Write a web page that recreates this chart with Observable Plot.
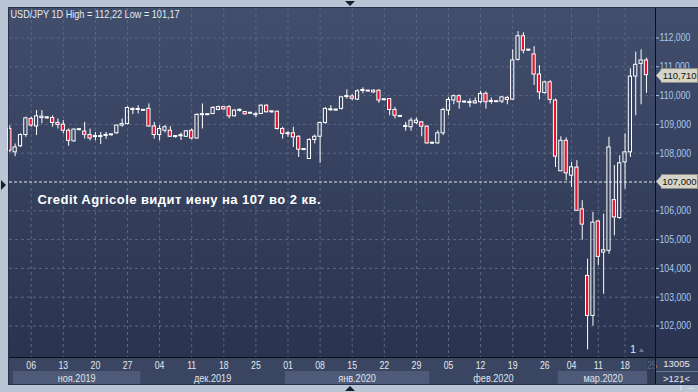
<!DOCTYPE html>
<html><head><meta charset="utf-8">
<script src="https://cdn.jsdelivr.net/npm/d3@7"></script>
<script src="https://cdn.jsdelivr.net/npm/@observablehq/plot@0.6"></script>
<style>
html,body{margin:0;padding:0;background:#b9c5d5;}
#chart{width:698px;height:392px;overflow:hidden;}
</style></head>
<body><div id="chart"></div>
<script>
// ---- data ----
const open  = [108.84,108.03,108.24,108.63,109.19,108.93,109.22,109.24,109.22,109.05,108.99,108.78,108.41,108.80,108.75,108.63,108.56,108.58,108.60,108.62,108.69,108.96,109.01,109.54,109.50,109.49,109.54,108.93,108.63,108.78,108.78,108.56,108.59,108.57,108.78,108.51,109.32,109.34,109.36,109.50,109.60,109.60,109.28,109.47,109.43,109.37,109.32,109.36,109.65,109.44,109.44,108.84,108.66,108.69,108.57,108.11,107.80,108.46,108.57,109.05,109.49,109.50,109.54,109.95,109.97,109.86,110.16,110.15,110.17,110.17,109.86,109.88,109.50,109.28,108.91,108.90,109.05,109.07,108.92,108.33,108.34,108.69,109.48,109.83,109.98,109.78,109.74,109.73,109.77,110.06,109.78,109.79,109.79,109.92,109.86,111.24,112.06,111.58,111.43,110.73,110.09,110.46,109.83,107.37,108.43,107.22,107.50,106.05,103.74,102.35,105.63,104.55,104.61,106.37,105.75,107.68,108.03,110.66,111.10,111.22];
const high  = [108.95,108.32,108.67,109.25,109.25,109.48,109.48,109.27,109.30,109.19,109.13,108.84,108.84,108.84,109.07,108.84,108.72,108.72,108.72,108.66,108.97,109.19,109.61,109.57,109.65,109.50,109.71,109.07,108.96,108.96,108.92,108.60,108.70,108.78,108.84,109.37,109.71,109.36,109.62,109.63,109.62,109.65,109.50,109.54,109.45,109.41,109.41,109.68,109.68,109.46,109.46,108.90,108.75,108.90,108.61,108.15,108.50,108.63,109.08,109.58,109.65,109.52,109.96,110.20,110.03,110.20,110.27,110.18,110.20,110.20,109.88,109.90,109.59,109.29,109.07,109.22,109.22,109.10,108.96,108.37,108.78,109.56,109.94,110.02,110.02,109.80,109.88,109.92,110.15,110.13,109.92,109.80,109.96,109.96,111.59,112.22,112.18,111.60,111.70,111.04,110.50,110.52,109.88,108.57,108.53,107.68,107.74,106.35,104.32,105.94,105.65,105.88,108.55,107.57,107.91,108.67,110.93,111.51,111.59,111.30];
const low   = [108.02,107.88,108.20,108.55,108.90,108.61,109.02,109.18,108.90,108.84,108.67,108.24,108.38,108.78,108.49,108.43,108.43,108.30,108.48,108.60,108.66,108.90,108.98,109.34,109.36,109.45,108.90,108.49,108.43,108.70,108.55,108.52,108.44,108.55,108.46,108.49,108.84,109.30,109.34,109.48,109.50,109.19,109.26,109.42,109.33,109.35,109.24,109.34,109.40,109.38,108.80,108.49,108.55,108.20,107.85,108.09,107.78,108.32,107.65,109.00,109.45,109.46,109.50,109.88,109.82,109.83,110.06,110.12,110.08,109.73,109.82,109.30,109.19,109.24,108.76,108.76,108.99,108.57,108.31,108.31,108.31,108.61,109.30,109.68,109.53,109.74,109.59,109.70,109.71,109.53,109.70,109.76,109.72,109.68,109.84,111.20,111.45,111.54,110.35,109.85,110.05,109.71,107.50,107.37,107.04,106.81,105.98,104.98,101.17,102.00,104.09,103.10,104.49,105.13,105.70,106.75,107.85,109.30,109.68,110.08];
const close = [108.09,108.20,108.63,109.21,108.96,109.28,109.27,109.21,109.05,108.98,108.78,108.43,108.82,108.82,108.64,108.51,108.58,108.56,108.62,108.64,108.96,109.01,109.57,109.50,109.52,109.47,108.93,108.63,108.84,108.90,108.57,108.58,108.61,108.76,108.51,109.33,109.34,109.32,109.57,109.60,109.52,109.28,109.48,109.49,109.35,109.39,109.34,109.65,109.42,109.42,108.84,108.67,108.68,108.55,108.12,108.13,108.46,108.57,109.05,109.54,109.51,109.48,109.94,109.97,109.89,110.15,110.18,110.14,110.11,109.83,109.84,109.50,109.30,109.26,108.93,109.13,109.13,108.92,108.34,108.35,108.69,109.50,109.85,109.98,109.77,109.76,109.76,109.80,110.06,109.77,109.80,109.77,109.94,109.85,111.22,112.06,111.56,111.56,110.73,110.11,110.46,109.85,107.88,108.43,107.30,107.51,106.00,105.52,102.35,105.59,104.40,104.63,108.20,105.77,107.65,108.03,110.66,111.07,111.22,110.71];

const tickIdx    = [4,10,16,22,28,34,40,46,52,58,64,70,76,82,88,94,100,105,110,115,120];
const tickLabels = ["06","13","20","27","04","11","18","25","01","08","15","22","29","05","12","19","26","04","11","18","25"];
const monthNames = ["ноя.2019","дек.2019","янв.2020","фев.2020","мар.2020"];
const monthStart = [-0.5,24.5,51.5,78.5,102.5];
const monthEnd   = [24.5,51.5,78.5,102.5,119.5];
const yTicks = [102,103,104,105,106,107,108,109,110,111,112];
const refLevel = 107;
const lastPrice = 110.71;
const titleText = "USD/JPY 1D High = 112,22 Low = 101,17";
const noteText = "Credit Agricole видит иену на 107 во 2 кв.";

// ---- table ----
const candles = open.map((o, i) => ({i, o, h: high[i], l: low[i], c: close[i], up: close[i] >= o}));
const bodyTop = d => Math.max(d.o, d.c, Math.min(d.o, d.c) + 0.035);
const bodyBot = d => Math.min(d.o, d.c);
const fmt3 = v => v.toFixed(3).replace(".", ",");
const FONT = "Liberation Sans, Arial, sans-serif";

function chrome(index, scales, values, dims) {
  const {width, height, marginLeft, marginTop, marginBottom} = dims;
  const pb = height - marginBottom;
  const g = d3.create("svg:g");
  const lg = g.append("defs").append("linearGradient").attr("id", "bgGrad")
    .attr("x1", 0).attr("y1", 0).attr("x2", 0).attr("y2", 1);
  lg.append("stop").attr("offset", "0%").attr("stop-color", "#414e6c");
  lg.append("stop").attr("offset", "100%").attr("stop-color", "#2a3350");
  g.append("rect").attr("x", marginLeft).attr("y", marginTop)
    .attr("width", width - marginLeft).attr("height", pb - marginTop).attr("fill", "url(#bgGrad)");
  g.append("rect").attr("x", marginLeft).attr("y", pb)
    .attr("width", width - marginLeft).attr("height", 28).attr("fill", "#3a4561");
  const x = scales.x;
  monthNames.forEach((m, k) => {
    const x0 = Math.max(marginLeft + 4, x(monthStart[k])), x1 = x(monthEnd[k]);
    if (k % 2 === 0) g.append("rect").attr("x", x0).attr("y", pb + 14).attr("width", x1 - x0).attr("height", 13).attr("fill", "#4e5a77");
    g.append("text").attr("x", (x0 + x1) / 2).attr("y", pb + 24.5).attr("text-anchor", "middle")
      .attr("fill", "#dfe5ee").attr("font-size", 11).attr("font-family", FONT).attr("class", "narrow").text(m);
  });
  return g.node();
}

function overlay(index, scales, values, dims) {
  const {width, height, marginLeft, marginRight, marginTop, marginBottom} = dims;
  const pb = height - marginBottom, pr = width - marginRight;
  const g = d3.create("svg:g");
  g.append("rect").attr("x", pr - 8).attr("y", pb + 1).attr("width", 8).attr("height", 26).attr("fill", "#2f3852").attr("opacity", 0.75);
  g.append("line").attr("x1", pr + 0.5).attr("x2", pr + 0.5).attr("y1", marginTop).attr("y2", pb + 28).attr("stroke", "#0c0f18");
  g.append("line").attr("x1", marginLeft).attr("x2", width).attr("y1", pb + 0.5).attr("y2", pb + 0.5).attr("stroke", "#0c0f18");
  g.append("rect").attr("x", marginLeft - 0.5).attr("y", marginTop - 0.5).attr("width", width - marginLeft + 1).attr("height", pb + 28 - marginTop)
    .attr("fill", "none").attr("stroke", "#26304a");
  g.append("line").attr("x1", pr + 1).attr("x2", width).attr("y1", pb + 14.5).attr("y2", pb + 14.5).attr("stroke", "#6b7691");
  g.append("text").attr("x", (pr + width) / 2).attr("y", pb + 10).attr("text-anchor", "middle").attr("fill", "#e3e8f0")
    .attr("font-size", 9.5).attr("font-family", FONT).text("13005");
  g.append("text").attr("x", (pr + width) / 2).attr("y", pb + 25).attr("text-anchor", "middle").attr("fill", "#e3e8f0")
    .attr("font-size", 9.5).attr("font-family", FONT).text(">121<");
  // price tags on the right axis
  [[lastPrice, fmt3(lastPrice)], [refLevel, fmt3(refLevel)]].forEach(([v, t]) => {
    const y = Math.round(scales.y(v)) + 0.5;
    g.append("rect").attr("x", pr + 6.5).attr("y", y - 7).attr("width", width - pr - 7).attr("height", 14)
      .attr("fill", "#d6d4c8").attr("stroke", "#8f8d82");
    g.append("path").attr("d", `M${pr + 1},${y} L${pr + 7},${y - 6.5} L${pr + 7},${y + 6.5} Z`).attr("fill", "#d6d4c8");
    g.append("text").attr("x", width - 1.5).attr("y", y + 3.5).attr("text-anchor", "end").attr("fill", "#111111")
      .attr("font-size", 9.5).attr("font-family", FONT).text(t);
  });
  g.append("text").attr("x", pr - 22).attr("y", pb - 4).attr("fill", "#dfe5ee").attr("font-size", 11).attr("font-family", FONT).text("1");
  g.append("path").attr("d", `M${pr - 16},${pb - 5} L${pr - 11},${pb - 5} L${pr - 13.5},${pb - 9} Z`).attr("fill", "#6c7892");
  // frame arrows
  g.append("path").attr("d", "M345,1 L355,1 L350,6 Z").attr("fill", "#1b1f2a");
  g.append("path").attr("d", "M345,391 L355,391 L350,386 Z").attr("fill", "#1b1f2a");
  g.append("path").attr("d", "M1,180 L1,190 L6,185 Z").attr("fill", "#1b1f2a");
  return g.node();
}

const chart = Plot.plot({
  width: 698, height: 392,
  marginLeft: 9, marginRight: 43, marginTop: 8, marginBottom: 35,
  x: {domain: [-0.056, 120.692]},
  y: {domain: [100.906, 113.024]},
  style: {background: "transparent", fontFamily: FONT, overflow: "visible"},
  marks: [
    chrome,
    Plot.ruleY(yTicks.filter(v => v !== refLevel), {stroke: "#5b6884", strokeDasharray: "3,3"}),
    Plot.ruleX(tickIdx.slice(0, -1), {stroke: "#5b6884", strokeDasharray: "3,3"}),
    Plot.ruleY([refLevel], {stroke: "#e4e8ef", strokeDasharray: "3,2"}),
    Plot.ruleX(candles, {x: "i", y1: bodyTop, y2: "h", stroke: "#ffffff"}),
    Plot.ruleX(candles, {x: "i", y1: "l", y2: bodyBot, stroke: "#ffffff"}),
    Plot.rect(candles.filter(d => d.up), {x1: d => d.i - 0.3, x2: d => d.i + 0.3, y1: bodyBot, y2: bodyTop, fill: "none", stroke: "#ffffff"}),
    Plot.rect(candles.filter(d => !d.up), {x1: d => d.i - 0.3, x2: d => d.i + 0.3, y1: bodyBot, y2: bodyTop, fill: "#e5132c", stroke: "#ffffff"}),
    Plot.axisY({anchor: "right", ticks: yTicks.filter(v => v !== refLevel), tickFormat: fmt3, tickSize: 3, tickPadding: 1,
      color: "#a8c8ee", fontSize: 10.5, className: "yax"}),
    Plot.axisX({ticks: tickIdx, tickFormat: d => tickLabels[tickIdx.indexOf(d)], tickSize: 0, tickPadding: 4,
      color: "#e3e8f0", fontSize: 10.5, className: "xax"}),
    Plot.text([titleText], {frameAnchor: "top-left", dx: 1, dy: 2, textAnchor: "start", lineAnchor: "top",
      fill: "#e6ebf3", fontSize: 11, className: "ttl"}),
    Plot.text([noteText], {frameAnchor: "top-left", dx: 28, dy: 186, textAnchor: "start", lineAnchor: "top",
      fill: "#ffffff", fontSize: 13, fontWeight: "bold", className: "note"}),
    overlay
  ]
});
document.getElementById("chart").appendChild(chart);

// Tahoma-like narrow glyphs: compress text horizontally
const svg = d3.select(chart);
svg.selectAll(".yax text, .xax text, .ttl text, text.narrow").each(function() {
  const w = this.getComputedTextLength();
  if (w > 0) { this.setAttribute("textLength", (w * 0.83).toFixed(1)); this.setAttribute("lengthAdjust", "spacingAndGlyphs"); }
});
svg.selectAll(".note text").each(function() {
  this.setAttribute("textLength", "283"); this.setAttribute("lengthAdjust", "spacing");
});
</script>
</body></html>
